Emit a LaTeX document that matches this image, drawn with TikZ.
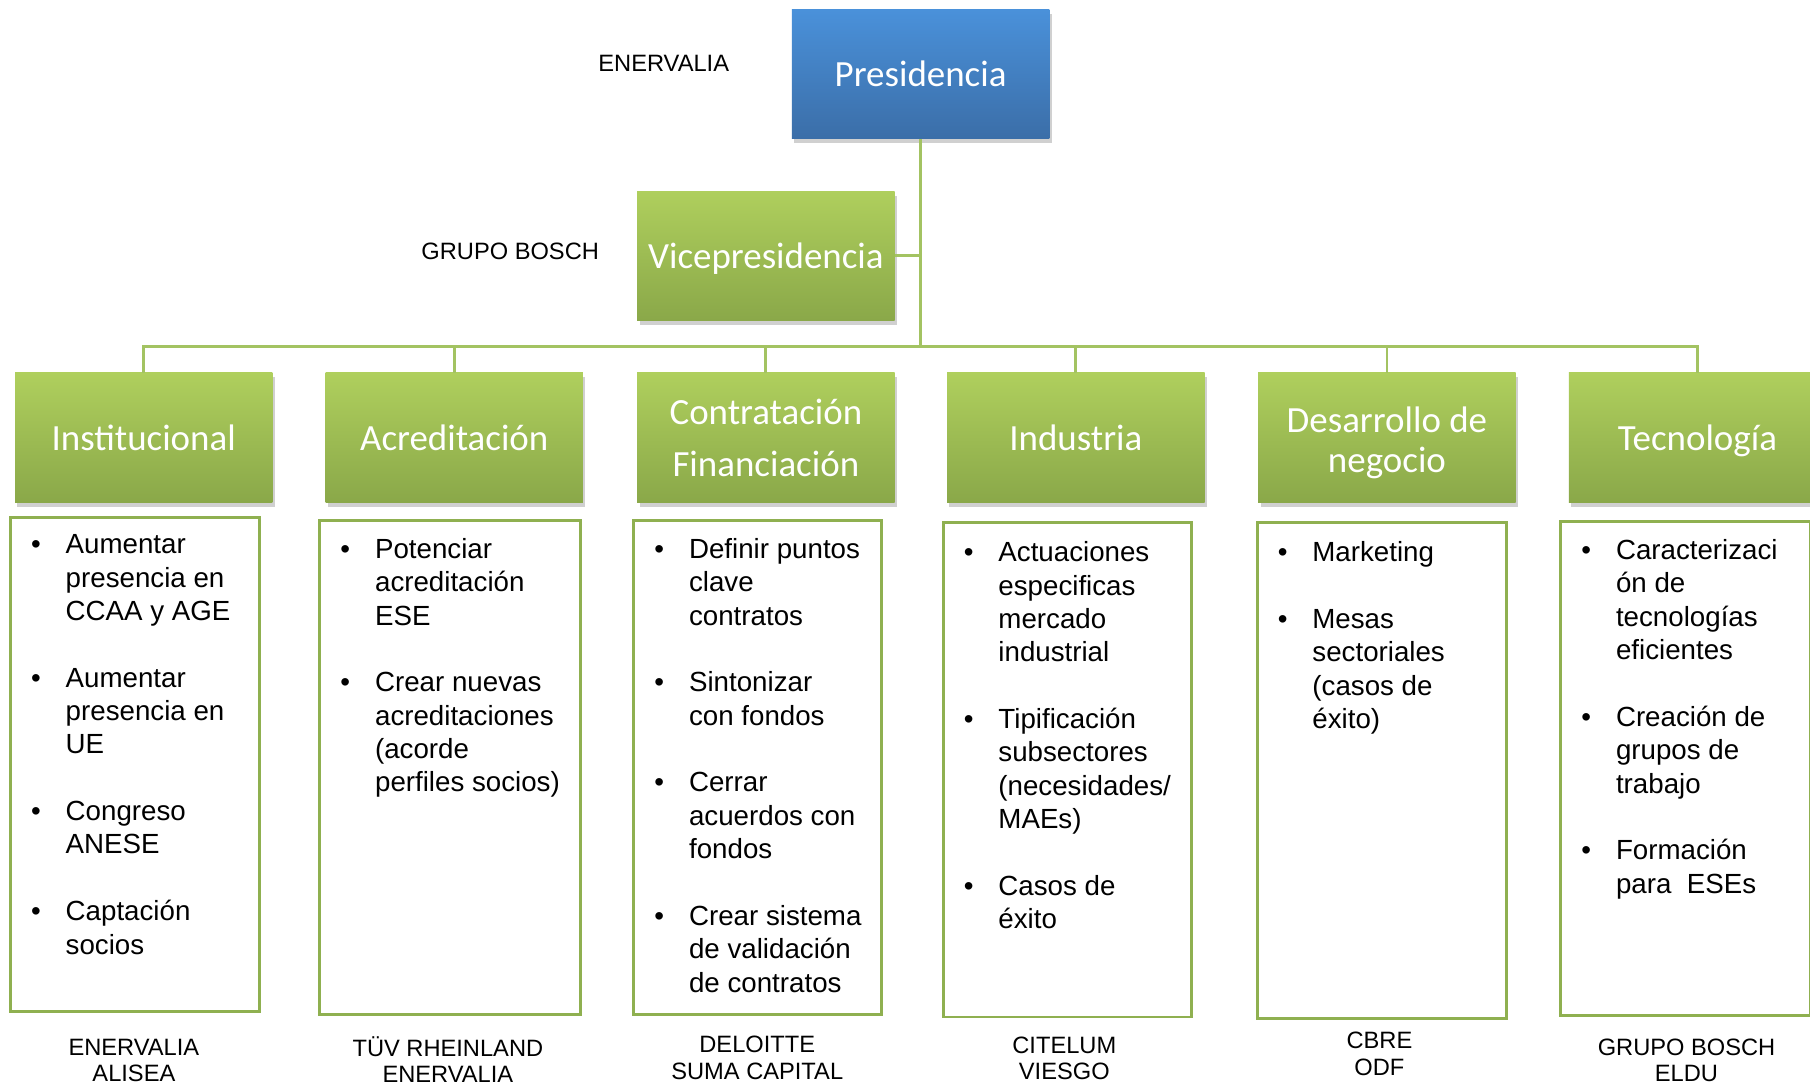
\documentclass[tikz,border=0pt]{standalone}
\usepackage{fontspec}
\setmainfont{Liberation Sans}
\newfontfamily\calfont{Carlito}
\usetikzlibrary{shadows}
\definecolor{gtop}{RGB}{175,207,93}
\definecolor{gbot}{RGB}{138,168,73}
\definecolor{btop}{RGB}{74,145,218}
\definecolor{bbot}{RGB}{59,110,168}
\definecolor{lineg}{RGB}{163,195,98}
\definecolor{boxg}{RGB}{143,176,80}
\tikzset{
  shad/.style={drop shadow={shadow xshift=2pt,shadow yshift=-4pt,opacity=0.3,fill=black!60}},
  gbox/.style={rectangle, minimum width=223pt, minimum height=112pt, inner sep=0pt,
    top color=gtop, bottom color=gbot, draw=none, text=white, align=center,
    text height=24pt, text depth=2pt,
    font=\calfont\fontsize{32}{35}\selectfont, shad},
  bbox/.style={gbox, top color=btop, bottom color=bbot},
  gtxt/.style={inner sep=0pt, text=white, align=center, font=\calfont\fontsize{32}{35}\selectfont},
  conn/.style={draw=lineg, line width=2.5pt},
  listbox/.style={rectangle, draw=boxg, line width=2.5pt, fill=white, inner sep=0pt},
  listtxt/.style={anchor=north west, inner sep=0pt, font=\fontsize{24}{28.9}\selectfont},
  lab/.style={inner sep=0pt, align=center, font=\fontsize{20.5}{23}\selectfont},
}
\begin{document}
\begin{tikzpicture}[x=1pt,y=-1pt]
\useasboundingbox (0,0) rectangle (1568,940);
\fill[white] (0,0) rectangle (1568,940);

% top level
\node[bbox] (pres) at (797.5,64) {Presidencia};
\node[gbox] (vice) at (663.5,221.5) {Vicepresidencia};
\node[lab] (lpres) at (575,55) {ENERVALIA};
\node[lab] (lvice) at (442,218) {GRUPO BOSCH};

% second level
\node[gbox] (g1) at (124.5,379) {Institucional};
\node[gbox] (g2) at (393.5,379) {Acreditación};
\node[gbox] (g3) at (663.5,379) {};
\node[gtxt, font=\calfont\fontsize{32}{45}\selectfont] (g3t) at (663.5,379) {Contratación\\Financiación};
\node[gbox] (g4) at (932,379) {Industria};
\node[gbox] (g5) at (1201.5,379) {};
\node[gtxt] (g5t) at (1201.5,383.5) {Desarrollo de\\negocio};
\node[gbox] (g6) at (1470.5,379) {Tecnología};

% connectors
\coordinate (bus) at (0,300);
\draw[conn] (pres.south) -- (pres.south |- bus);
\draw[conn] (vice.east) -- (vice.east -| pres.south);
\draw[conn] (g1.north) -- (g1.north |- bus) -- (g6.north |- bus) -- (g6.north);
\foreach \g in {g2,g3,g4,g5} \draw[conn] (\g.north) -- (\g.north |- bus);

% list boxes
\node[listbox, minimum width=216pt, minimum height=428pt] (b1) at (117,662) {};
\node[listbox, minimum width=226pt, minimum height=428pt] (b2) at (390,665) {};
\node[listbox, minimum width=215pt, minimum height=428pt] (b3) at (656.5,665) {};
\node[listbox, minimum width=215pt, minimum height=428pt] (b4) at (924.5,667) {};
\node[listbox, minimum width=216pt, minimum height=429pt] (b5) at (1197,667.5) {};
\node[listbox, minimum width=216pt, minimum height=428pt] (b6) at (1460,666) {};

\node[listtxt] (t1) at ([xshift=19pt,yshift=-12.5pt]b1.north west) {%
\begin{tabular}{@{}p{30pt}@{}l@{}}
\textbullet & Aumentar\\
 & presencia en\\
 & CCAA y AGE\\[28.9pt]
\textbullet & Aumentar\\
 & presencia en\\
 & UE\\[28.9pt]
\textbullet & Congreso\\
 & ANESE\\[28.9pt]
\textbullet & Captación\\
 & socios
\end{tabular}};

\node[listtxt] (t2) at ([xshift=19pt,yshift=-13.5pt]b2.north west) {%
\begin{tabular}{@{}p{30pt}@{}l@{}}
\textbullet & Potenciar\\
 & acreditación\\
 & ESE\\[28.9pt]
\textbullet & Crear nuevas\\
 & acreditaciones\\
 & (acorde\\
 & perfiles socios)
\end{tabular}};

\node[listtxt] (t3) at ([xshift=19pt,yshift=-13.5pt]b3.north west) {%
\begin{tabular}{@{}p{30pt}@{}l@{}}
\textbullet & Definir puntos\\
 & clave\\
 & contratos\\[28.9pt]
\textbullet & Sintonizar\\
 & con fondos\\[28.9pt]
\textbullet & Cerrar\\
 & acuerdos con\\
 & fondos\\[28.9pt]
\textbullet & Crear sistema\\
 & de validación\\
 & de contratos
\end{tabular}};

\node[listtxt] (t4) at ([xshift=19pt,yshift=-14.5pt]b4.north west) {%
\begin{tabular}{@{}p{30pt}@{}l@{}}
\textbullet & Actuaciones\\
 & especificas\\
 & mercado\\
 & industrial\\[28.9pt]
\textbullet & Tipificación\\
 & subsectores\\
 & (necesidades/\\
 & MAEs)\\[28.9pt]
\textbullet & Casos de\\
 & éxito
\end{tabular}};

\node[listtxt] (t5) at ([xshift=19pt,yshift=-14.5pt]b5.north west) {%
\begin{tabular}{@{}p{30pt}@{}l@{}}
\textbullet & Marketing\\[28.9pt]
\textbullet & Mesas\\
 & sectoriales\\
 & (casos de\\
 & éxito)
\end{tabular}};

\node[listtxt] (t6) at ([xshift=19pt,yshift=-13.5pt]b6.north west) {%
\begin{tabular}{@{}p{30pt}@{}l@{}}
\textbullet & Caracterizaci\\
 & ón de\\
 & tecnologías\\
 & eficientes\\[28.9pt]
\textbullet & Creación de\\
 & grupos de\\
 & trabajo\\[28.9pt]
\textbullet & Formación\\
 & para\ \ ESEs
\end{tabular}};

% bottom labels
\node[lab] (l1) at (116,918.5) {ENERVALIA\\ALISEA};
\node[lab] (l2) at (388,918) {TÜV RHEINLAND\\ENERVALIA};
\node[lab] (l3) at (656,916.5) {DELOITTE\\SUMA CAPITAL};
\node[lab] (l4) at (922,917) {CITELUM\\VIESGO};
\node[lab] (l5) at (1195,913) {CBRE\\ODF};
\node[lab] (l6) at (1461,918.5) {GRUPO BOSCH\\ELDU};
\end{tikzpicture}
\end{document}
